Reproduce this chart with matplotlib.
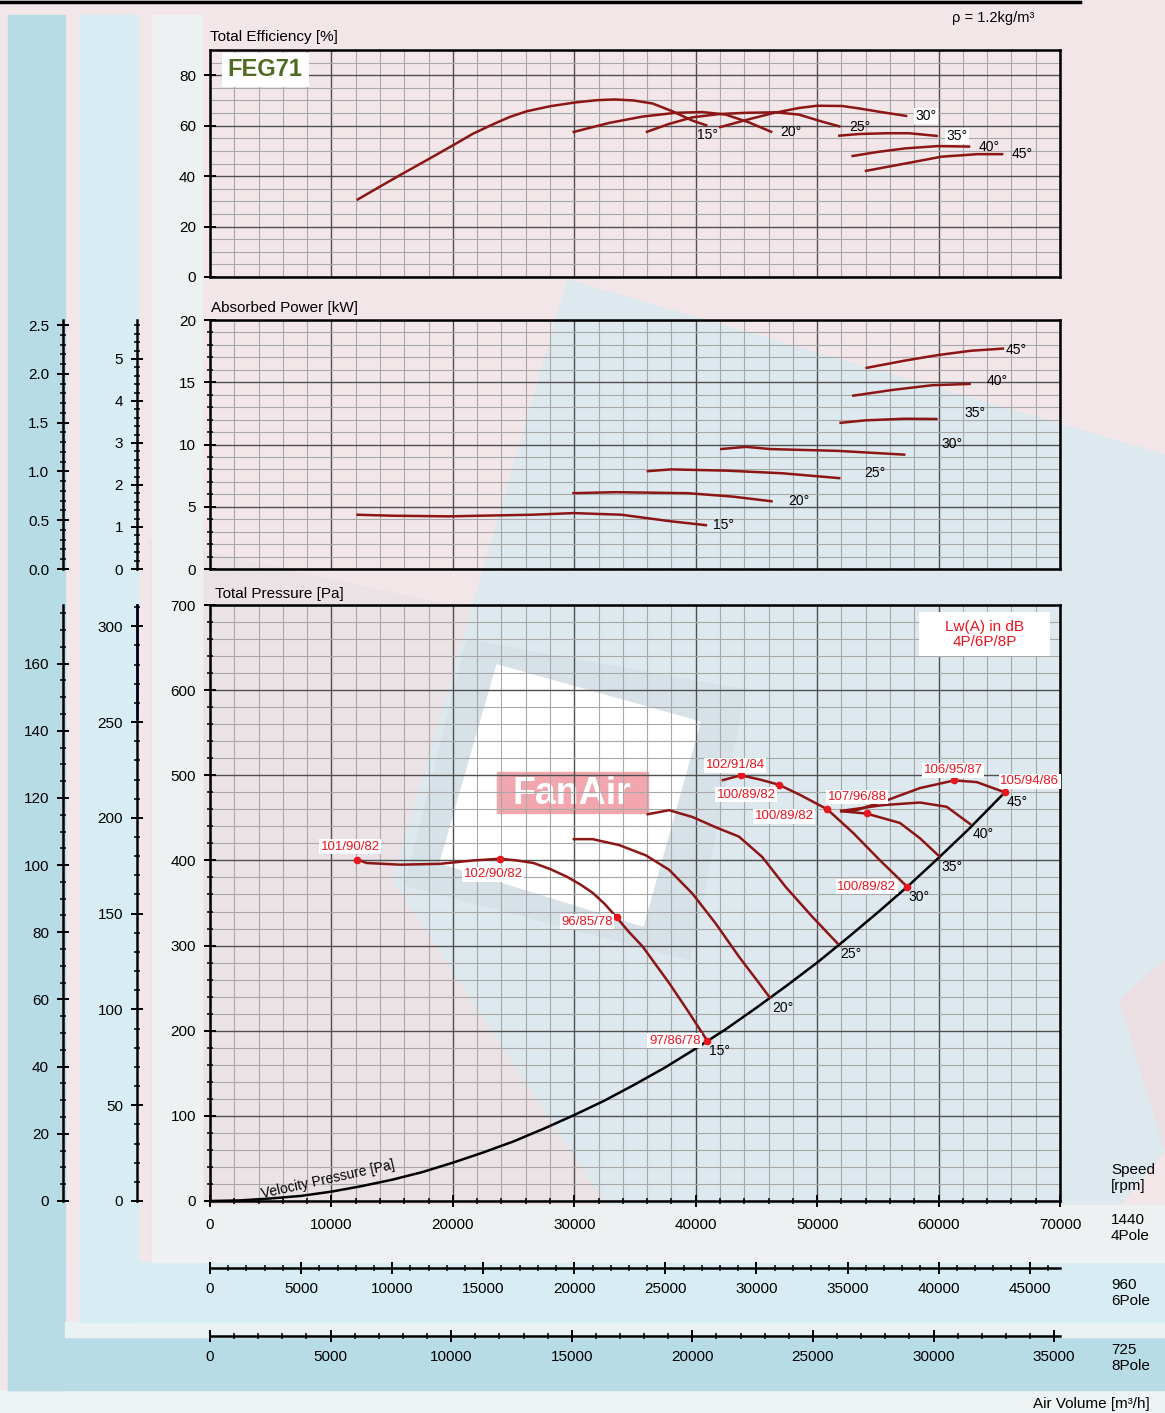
import matplotlib
matplotlib.use('Agg')
import matplotlib.pyplot as plt
from matplotlib.patches import Polygon, Rectangle
from matplotlib.ticker import MultipleLocator, FormatStrFormatter

plt.rcParams['font.family'] = ['Liberation Sans', 'DejaVu Sans']

W, H = 1165, 1413
RPM = [1440, 960, 725]

angles = ['15°', '20°', '25°', '30°', '35°', '40°', '45°']

# total efficiency [%] vs air volume [m3/h] at 1440 rpm
eff_q = [
    [12080, 13730, 15650, 17840, 20040, 21690, 23330, 24710, 26080, 28000, 30060, 31850, 33300,
     34860, 36440, 38080, 39730, 40960],
    [29860, 32880, 35620, 38360, 40550, 42470, 44380, 46300],
    [35890, 37810, 39730, 41920, 44110, 46580, 48490, 50410, 51920],
    [41920, 44110, 46300, 48490, 50000, 52050, 53500, 55000, 57420],
    [51720, 53500, 55790, 57570, 59940],
    [52820, 55000, 57270, 59940, 62610],
    [53920, 57270, 60240, 63200, 65340],
]
eff_v = [
    [30.5, 35.1, 40.4, 46.3, 52.3, 56.9, 60.6, 63.5, 65.7, 67.7, 69.2, 70.1, 70.4,
     70.0, 68.8, 65.7, 62.0, 60.0],
    [57.4, 61.1, 63.6, 65.1, 65.4, 64.4, 61.3, 57.4],
    [57.4, 60.7, 63.3, 64.6, 65.1, 65.3, 64.4, 61.6, 59.6],
    [59.3, 62.2, 64.9, 67.0, 67.9, 67.8, 66.8, 65.6, 63.8],
    [56.0, 56.7, 57.0, 57.0, 55.9],
    [47.9, 49.6, 51.0, 51.9, 51.7],
    [42.0, 45.0, 47.7, 48.7, 48.7],
]

# absorbed power [kW]
pow_q = [
    [12050, 15000, 19680, 26540, 29970, 33860, 37970, 40940],
    [29830, 33400, 39340, 43000, 46340],
    [35960, 37970, 42550, 47110, 51920],
    [42000, 44140, 46200, 51690, 57270],
    [51830, 53980, 57180, 59920],
    [52880, 56260, 59460, 62660],
    [53980, 57180, 59920, 62660, 65400],
]
pow_v = [
    [4.36, 4.28, 4.23, 4.36, 4.49, 4.36, 3.83, 3.51],
    [6.09, 6.17, 6.09, 5.82, 5.43],
    [7.85, 8.00, 7.90, 7.69, 7.29],
    [9.63, 9.81, 9.63, 9.49, 9.18],
    [11.73, 11.94, 12.07, 12.05],
    [13.91, 14.39, 14.76, 14.87],
    [16.14, 16.73, 17.18, 17.53, 17.71],
]

# total pressure [Pa]
prs_q = [
    [12130, 12900, 15650, 18940, 21690, 23880, 25250, 26630, 28000, 29370, 30470, 31510, 32500,
     33490, 34500, 35620, 37810, 39320, 40960],
    [29860, 31510, 33700, 35890, 37810, 39730, 41640, 43560, 45210, 46150],
    [35950, 37810, 39730, 41640, 43560, 45480, 47400, 49590, 51780],
    [42140, 43730, 45290, 46830, 48590, 50840, 52990, 55180, 57420],
    [51880, 54080, 56820, 58470, 60120],
    [51880, 55430, 58470, 60670, 62670],
    [51880, 52990, 55430, 58470, 61300, 63140, 65460],
]
prs_v = [
    [401, 397, 395, 396, 400, 402, 400, 397, 390, 381, 372, 362, 349, 333, 316, 299, 256, 224, 188],
    [425, 425, 418, 406, 389, 361, 326, 287, 256, 238],
    [454, 459, 451, 439, 428, 404, 369, 334, 301],
    [494, 500, 495, 489, 477, 460, 432, 400, 369],
    [458, 455, 444, 426, 404],
    [458, 465, 468, 463, 442],
    [458, 458, 469, 485, 494, 492, 480],
]

# velocity pressure [Pa]
vp_q = [0, 2500, 5000, 7500, 10000, 12500, 15000, 17500, 20000, 22500, 25000, 27500, 30000,
        32500, 35000, 37500, 40000, 42500, 45000, 47500, 50000, 52500, 55000, 57500, 60000,
        62500, 65460]
vp_p = [0, 0.7, 3, 6, 11, 17.5, 25, 34, 45, 57, 70, 85, 101, 118, 137, 157, 179, 202, 227,
        253, 280, 309, 339, 370, 403, 437, 480]

# sound power points Lw(A) 4P/6P/8P
pt_q = [12130, 23880, 33490, 40960, 43730, 46830, 50840, 57420, 54080, 61300, 65460]
pt_p = [401, 402, 333, 188, 500, 489, 460, 369, 456, 494, 480]
pt_txt = ['101/90/82', '102/90/82', '96/85/78', '97/86/78', '102/91/84', '100/89/82',
          '100/89/82', '100/89/82', '107/96/88', '106/95/87', '105/94/86']

Q_MAX = 70000
CURVE = '#8c1515'
RED = '#e8141e'


def rect(left, top, right, bottom):
    return [left / W, 1 - bottom / H, (right - left) / W, (bottom - top) / H]


fig = plt.figure(figsize=(W / 100, H / 100), dpi=100)
fig.patch.set_facecolor('#f2e6e9')

# ---- decorative background (pixel coordinates) ----
bg = fig.add_axes([0, 0, 1, 1], zorder=0)
bg.set_xlim(0, W)
bg.set_ylim(H, 0)
bg.axis('off')
bg.add_patch(Polygon([(150, 540), (470, 610), (640, 1255), (150, 1255)], color='#ebe2e6'))
bg.add_patch(Polygon([(568, 280), (1165, 455), (1165, 1150), (1120, 1205), (640, 1255), (393, 880)],
                     color='#dde9ee'))
bg.add_patch(Polygon([(467, 640), (745, 690), (690, 960), (405, 885)], color='#d6e2e8'))
bg.add_patch(Polygon([(497, 665), (700, 722), (643, 926), (440, 863)], color='white'))
bg.add_patch(Polygon([(1120, 1000), (1165, 960), (1165, 1150)], color='#ecdfe3'))
bg.add_patch(Rectangle((497, 772), 151, 41, color='#f2a6ad'))
bg.text(572, 794, 'FanAir', color='white', fontsize=27, fontweight='bold', ha='center', va='center')
# speed bands
bg.add_patch(Rectangle((0, 1390), W, H - 1390, color='#eef3f4'))
bg.add_patch(Rectangle((8, 1337), W - 8, 53, color='#b8dce6'))
bg.add_patch(Rectangle((8, 15), 57, 1375, color='#b8dce6'))
bg.add_patch(Rectangle((65, 1322), W - 65, 15, color='#e9f1f3'))
bg.add_patch(Rectangle((80, 1262), W - 80, 60, color='#d7edf3'))
bg.add_patch(Rectangle((80, 15), 58, 1307, color='#d7edf3'))
bg.add_patch(Rectangle((152, 1205), W - 152, 57, color='#eef1f1'))
bg.add_patch(Rectangle((152, 15), 50, 1247, color='#eef1f1'))
bg.plot([0, 1080], [1.5, 1.5], color='black', lw=2.5)


def style_main(ax, ymax, yminor, grid_major_y):
    ax.set_facecolor('none')
    ax.set_xlim(0, Q_MAX)
    ax.set_ylim(0, ymax)
    ax.xaxis.set_major_locator(MultipleLocator(10000))
    ax.xaxis.set_minor_locator(MultipleLocator(2000))
    ax.yaxis.set_major_locator(MultipleLocator(grid_major_y))
    ax.yaxis.set_minor_locator(MultipleLocator(yminor))
    ax.grid(which='minor', color='#a8a8a8', lw=0.8)
    ax.grid(which='major', color='#505050', lw=1.0)
    for s in ax.spines.values():
        s.set_linewidth(1.8)
    ax.tick_params(labelsize=11, width=1.4)
    ax.tick_params(axis='y', which='major', direction='inout', length=8, pad=6)
    ax.tick_params(axis='y', which='minor', direction='inout', length=4, width=1.1)


def side_axis(rect_, lim, major, minor, fmt, pos, vertical=True):
    a = fig.add_axes(rect_, zorder=2)
    a.patch.set_visible(False)
    for s in a.spines.values():
        s.set_visible(False)
    sp = a.spines['left' if vertical else 'bottom']
    sp.set_visible(True)
    sp.set_position(('axes', pos))
    sp.set_linewidth(1.8)
    axis = a.yaxis if vertical else a.xaxis
    if vertical:
        a.set_ylim(*lim)
        a.set_xticks([])
    else:
        a.set_xlim(*lim)
        a.set_yticks([])
    axis.set_major_locator(MultipleLocator(major))
    axis.set_minor_locator(MultipleLocator(minor))
    axis.set_major_formatter(FormatStrFormatter(fmt))
    which_axis = 'y' if vertical else 'x'
    a.tick_params(axis=which_axis, which='major', direction='inout',
                  length=8, width=1.4, labelsize=11, pad=6)
    a.tick_params(axis=which_axis, which='minor', direction='inout', length=4, width=1.1)
    return a


# ---- efficiency ----
r_eff = rect(210, 50, 1060, 277)
ax1 = fig.add_axes(r_eff, zorder=3)
style_main(ax1, 90, 5, 20)
ax1.set_yticks(range(0, 81, 20))
ax1.tick_params(axis='x', which='both', length=0, labelbottom=False)
ax1.tick_params(axis='y', which='minor', length=0)
eff_off = [(0, -2, 'center', 'top')] + [(6, 0, 'left', 'center')] * 6
for i, lab in enumerate(angles):
    ax1.plot(eff_q[i], eff_v[i], color=CURVE, lw=1.8, solid_capstyle='butt')
    dx, dy, ha, va = eff_off[i]
    box = dict(facecolor='white', edgecolor='none', pad=1) if lab in ('30°', '35°') else None
    ax1.annotate(lab, (eff_q[i][-1], eff_v[i][-1]), xytext=(dx, dy), textcoords='offset points',
                 ha=ha, va=va, fontsize=10, bbox=box)
ax1.text(0.065, 0.912, 'FEG71', transform=ax1.transAxes, fontsize=17, fontweight='bold',
         color='#4e6b22', ha='center', va='center',
         bbox=dict(boxstyle='square,pad=0.25', facecolor='white', edgecolor='none'))
fig.text(210 / W, 1 - 37 / H, 'Total Efficiency [%]', fontsize=11, va='center')
fig.text(993 / W, 1 - 18 / H, 'ρ = 1.2kg/m³', fontsize=10.5, ha='center', va='center')

# ---- absorbed power ----
r_pow = rect(210, 320, 1060, 569)
ax2 = fig.add_axes(r_pow, zorder=3)
style_main(ax2, 20, 1, 5)
ax2.tick_params(axis='x', which='both', length=0, labelbottom=False)
pow_off = [(4, 0), (11, 0), (17, 4), (26, 8), (19, 4), (11, 2), (1, -1)]
for i, lab in enumerate(angles):
    ax2.plot(pow_q[i], pow_v[i], color=CURVE, lw=1.8, solid_capstyle='butt')
    ax2.annotate(lab, (pow_q[i][-1], pow_v[i][-1]), xytext=pow_off[i], textcoords='offset points',
                 ha='left', va='center', fontsize=10)
fig.text(211 / W, 1 - 308 / H, 'Absorbed Power [kW]', fontsize=11, va='center')
side_axis(r_pow, (0, 20 * (RPM[2] / RPM[0]) ** 3), 0.5, 0.1, '%.1f', -147 / 850)
side_axis(r_pow, (0, 20 * (RPM[1] / RPM[0]) ** 3), 1, 0.2, '%d', -73 / 850)

# ---- total pressure ----
r_prs = rect(210, 605, 1060, 1201)
ax3 = fig.add_axes(r_prs, zorder=3)
style_main(ax3, 700, 20, 100)
ax3.tick_params(axis='x', which='major', direction='inout', length=8, pad=8)
ax3.tick_params(axis='x', which='minor', direction='inout', length=4, width=1.1)
ax3.plot(vp_q, vp_p, color='black', lw=1.8)
for i, lab in enumerate(angles):
    ax3.plot(prs_q[i], prs_v[i], color=CURVE, lw=1.8, solid_capstyle='butt')
    ax3.annotate(lab, (prs_q[i][-1], prs_v[i][-1]), xytext=(1, -2), textcoords='offset points',
                 ha='left', va='top', fontsize=10)
ax3.plot(pt_q, pt_p, 'o', color=RED, ms=4.5, zorder=5)
pt_place = [(-5, 5, 'center', 'bottom'), (-5, -7, 'center', 'top'), (-3, -3, 'right', 'center'),
            (-5, 0, 'right', 'center'), (-4, 3, 'center', 'bottom'), (-2, -3, 'right', 'top'),
            (-10, -5, 'right', 'center'), (-8, 0, 'right', 'center'), (-7, 7, 'center', 'bottom'),
            (-1, 3, 'center', 'bottom'), (18, 8, 'center', 'center')]
for q, p, t, (dx, dy, ha, va) in zip(pt_q, pt_p, pt_txt, pt_place):
    ax3.annotate(t, (q, p), xytext=(dx, dy), textcoords='offset points', ha=ha, va=va,
                 fontsize=9.5, color=RED, zorder=6,
                 bbox=dict(facecolor='white', edgecolor='none', pad=1))
ax3.text(9720, 25, 'Velocity Pressure [Pa]', rotation=12.5, fontsize=10, ha='center', va='center',
         rotation_mode='anchor')
ax3.add_patch(Rectangle((0.834, 0.9144), 0.154, 0.0736, transform=ax3.transAxes,
                        facecolor='white', edgecolor='none', zorder=4))
ax3.text(0.911, 0.951, 'Lw(A) in dB\n4P/6P/8P', transform=ax3.transAxes, color=RED, fontsize=11,
         ha='center', va='center', linespacing=1.1, zorder=5)
fig.text(215 / W, 1 - 594 / H, 'Total Pressure [Pa]', fontsize=11, va='center')
side_axis(r_prs, (0, 700 * (RPM[2] / RPM[0]) ** 2), 20, 5, '%d', -147 / 850)
a6 = side_axis(r_prs, (0, 700 * (RPM[1] / RPM[0]) ** 2), 50, 10, '%d', -73 / 850)
a6.plot([-73 / 850, -73 / 850], [252, 311], transform=a6.get_yaxis_transform(), color='#2020a0',
        lw=1.8, clip_on=False)

# lower air volume scales for 6 and 8 pole
side_axis(r_prs, (0, Q_MAX * RPM[1] / RPM[0]), 5000, 1000, '%d', -67 / 596, vertical=False)
side_axis(r_prs, (0, Q_MAX * RPM[2] / RPM[0]), 5000, 1000, '%d', -135 / 596, vertical=False)

for ytxt, txt in [(1178, 'Speed\n[rpm]'), (1228, '1440\n4Pole'), (1293, '960\n6Pole'), (1358, '725\n8Pole')]:
    fig.text(1111 / W, 1 - ytxt / H, txt, fontsize=11, va='center', linespacing=1.25)
fig.text(1150 / W, 1 - 1404 / H, 'Air Volume [m³/h]', fontsize=11, ha='right', va='center')

fig.savefig('out.png', dpi=100)
